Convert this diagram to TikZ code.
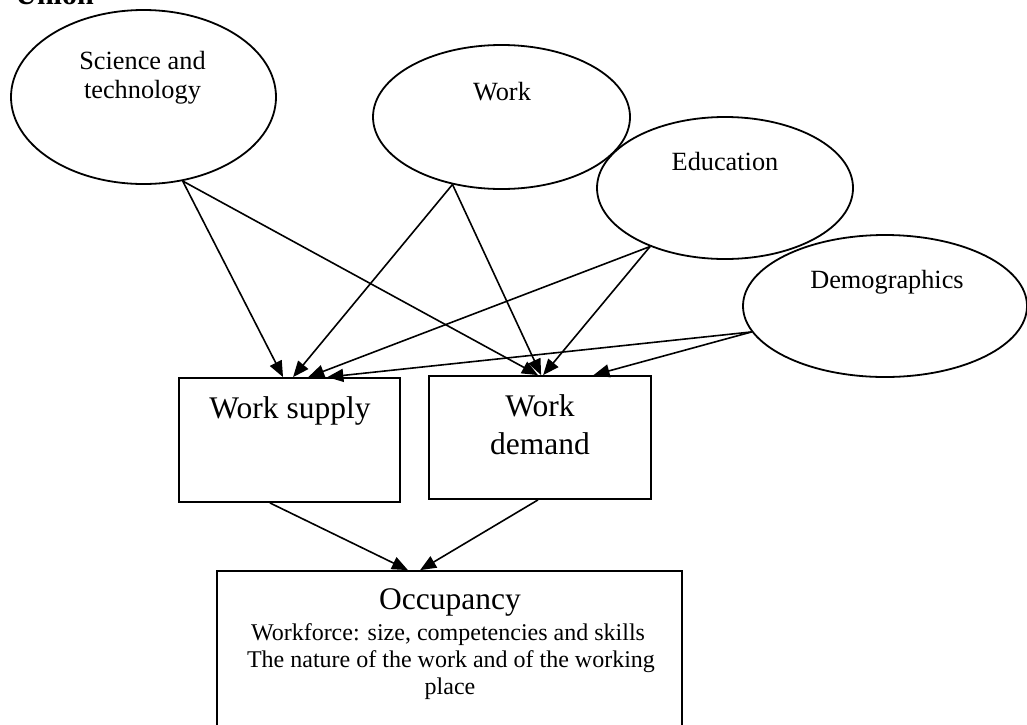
\documentclass[tikz,border=0pt]{standalone}
\usepackage{fontspec}
\setmainfont{Liberation Serif}
\usetikzlibrary{shapes.geometric,arrows.meta,calc}
\begin{document}
\begin{tikzpicture}[x=0.5pt,y=-0.5pt,
  oval/.style={ellipse,draw,fill=white,line width=0.9pt,inner sep=0pt},
  boxnode/.style={rectangle,draw,line width=0.9pt,inner sep=0pt},
  smalltxt/.style={font=\fontsize{13.15}{15}\selectfont,anchor=base,inner sep=0pt},
  bigtxt/.style={font=\fontsize{15.75}{18}\selectfont,anchor=base,inner sep=0pt},
  detailtxt/.style={font=\fontsize{12}{14}\selectfont,anchor=base,inner sep=0pt},
  arr/.style={-{Triangle[length=8pt,width=6.5pt]},line width=0.8pt}]
\useasboundingbox (0,0) rectangle (1027,724);
\clip (0,0) rectangle (1027,724);

\node[anchor=base west,inner sep=0pt,font=\fontsize{15}{18}\selectfont\bfseries] (union) at (15,4) {Union};

\node[oval,minimum width=132.5pt,minimum height=87pt] (sci) at (143.5,97) {};
\node[oval,minimum width=128.5pt,minimum height=72pt] (work) at (501.5,117) {};
\node[oval,minimum width=128pt,minimum height=71pt] (edu) at (725,188) {};
\node[oval,minimum width=142pt,minimum height=71pt] (demo) at (885,306) {};

\node[smalltxt] (sciA) at (142.5,69) {Science and};
\node[smalltxt] (sciB) at (142.5,98) {technology};
\node[smalltxt] (workT) at (502,100) {Work};
\node[smalltxt] (eduT) at (725,170) {Education};
\node[smalltxt] (demoT) at (887,288) {Demographics};

\node[boxnode,minimum width=110.5pt,minimum height=62pt] (ws) at (289.5,440) {};
\node[boxnode,minimum width=111pt,minimum height=61.5pt] (wd) at (540,437.5) {};
\node[boxnode,minimum width=232.5pt,minimum height=94.5pt] (occ) at (449.5,665.5) {};

\node[bigtxt] (wsT) at (290,418) {Work supply};
\node[bigtxt] (wdA) at (540,416) {Work};
\node[bigtxt] (wdB) at (540,454) {demand};
\node[bigtxt] (occA) at (450,609) {Occupancy};
\node[detailtxt] (occB) at (448,640) {Workforce: size, competencies and skills};
\node[detailtxt] (occC) at (451,667) {The nature of the work and of the working};
\node[detailtxt] (occD) at (450,694) {place};

\draw[arr] (sci.-65) -- ($(ws.north west)!0.471!(ws.north east)$);
\draw[arr] (sci.-65) -- ($(wd.north west)!0.491!(wd.north east)$);
\draw[arr] (work.-126) -- ($(ws.north west)!0.516!(ws.north east)$);
\draw[arr] (work.-126) -- ($(wd.north west)!0.505!(wd.north east)$);
\draw[arr] (edu.-142) -- ($(ws.north west)!0.584!(ws.north east)$);
\draw[arr] (edu.-142) -- ($(wd.north west)!0.514!(wd.north east)$);
\draw[arr] (demo.-169) -- ($(ws.north west)!0.670!(ws.north east)$);
\draw[arr] (demo.-169) -- ($(wd.north west)!0.739!(wd.north east)$);

\draw[arr] ($(ws.south west)!0.412!(ws.south east)$) -- ($(occ.north west)!0.411!(occ.north east)$);
\draw[arr] ($(wd.south west)!0.491!(wd.south east)$) -- ($(occ.north west)!0.437!(occ.north east)$);
\end{tikzpicture}
\end{document}
